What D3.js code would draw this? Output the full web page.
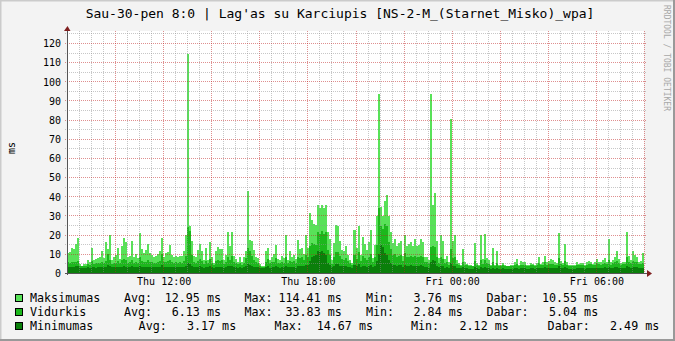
<!DOCTYPE html>
<html>
<head>
<meta charset="utf-8" />
<title>Lag'as su Karciupis</title>
<script src="https://d3js.org/d3.v7.min.js"></script>
<style>
  body { margin: 0; background: #fff; }
  svg text { font-family: "DejaVu Sans Mono", monospace; fill: #000; }
</style>
</head>
<body>
<svg id="chart"></svg>
<script>
// 5 minute samples, Thu 08:00 -> Fri 08:00 (ms)
var maxVals = [
  10.6, 11.1, 13, 12.6, 15.3, 18.1, 4.8, 3.8, 4.8, 4.8, 6.9, 5.6, 13, 6.6, 7.1, 7.6, 8.3, 11.6, 7.6, 16,
  12.6, 19.6, 6.9, 8.3, 9.6, 13, 7.2, 14.2, 18.3, 16, 8.6, 9, 16.9, 8.6, 10, 7.6, 20.9, 12.6, 10.6, 12.1,
  15.3, 10.2, 9.6, 8.6, 9, 10, 11.6, 18.3, 8.3, 10.2, 11.1, 14.6, 9.6, 8.3, 9, 8.3, 9, 9,
  11.6, 19.6, 114.41, 24.4, 16.9, 9, 8.3, 12.1, 15.3, 11.6, 6.9, 13, 6.9, 16.3, 8.3, 5.1, 11.6, 13.6, 12.6, 12.6,
  6.9, 9.6, 21.2, 14.2, 21.2, 9, 7.2, 6, 8.3, 5.5, 8.6, 11.6, 42.6, 17.4, 16.6, 12.1, 8.6, 7.6, 4.8, 3.8,
  3.9, 11.6, 13, 6.9, 8.6, 10, 14.8, 7.2, 6.9, 9, 7.6, 20, 6.9, 11.3, 8.3, 9.6, 7.2,
  17.4, 12.6, 13, 10, 20, 13, 31.4, 27.6, 25.6, 25.1, 35.6, 34, 35.6, 34, 35.6, 21.6, 17.6, 6.9, 15.6, 25.2,
  24.6, 16.6, 12.1, 11.3, 14.2, 9.3, 6.9, 5.1, 22.3, 13, 24.6, 9.3, 18.8, 15.3, 12.1, 16, 22.6, 7.9, 14.8, 30,
  93.2, 34.6, 29.6, 37.6, 40.6, 29.6, 21.6, 15.6, 17.6, 13.9, 15.6, 16.6, 9, 20, 13.9, 15.3, 16, 14.2,
  17.6, 14.2, 14.8, 17.6, 16, 8.6, 8.3, 6.9, 93.4, 35.6, 41.6, 16.6, 7.6, 19.6, 16.6, 7.2, 9, 5.6, 80.2, 16.6,
  19.6, 6.9, 5.2, 4.4, 12.6, 6, 4.8, 4.2, 4, 3.9, 15.6, 5.2, 4.1, 19.6, 7.2, 20.6, 7.6, 6.9, 4.2, 13,
  4.2, 11.6, 4, 4.2, 5.1, 4, 3.9, 3.9, 4, 4.2, 6, 7.2, 4.2, 6.5, 6, 6, 4.2, 4.4,
  5.1, 4.8, 4.2, 5.1, 8.3, 4.8, 5.5, 9, 5.5, 6.5, 7.2, 6.9, 5.5, 5.1, 20.9, 6.5, 5.1, 15.3, 5.5, 4.2,
  4, 4.1, 4.4, 5.5, 4.8, 5.1, 5.1, 4.2, 6, 6.5, 6, 4.8, 5.5, 7.2, 6, 5.5, 6.9, 7.9, 6, 17.6,
  5.5, 6.9, 8.3, 11.6, 7.2, 5.1, 6, 5.5, 21.6, 9, 6.9, 11.3, 9.5, 8.3, 5.5, 6.5, 10.55
];
var avgVals = [
  5.6, 5.4, 5.8, 5.5, 5.9, 6.2, 3.9, 3.6, 3.8, 3.9, 4.6, 4.2,
  6.1, 4.8, 5, 5.2, 5.4, 6, 5, 6.4, 9.8, 7, 4.8, 5.2,
  5.4, 6.2, 5, 6.6, 7.2, 6.8, 5.4, 5.6, 6.9, 5.3, 5.8, 5.1,
  8.3, 6.2, 5.8, 6, 6.6, 5.7, 5.6, 5.2, 5.4, 5.8, 6.1, 9.8,
  5.6, 5.9, 6.2, 6.8, 5.8, 5.3, 5.5, 5.2, 5.5, 5.4, 6.4, 8.8,
  24.2, 22, 9.6, 5.8, 5.4, 6.4, 7.2, 6.2, 4.8, 6.5, 5, 7.4,
  5.4, 4.2, 6.3, 6.8, 6.4, 6.6, 4.9, 5.6, 8.6, 7, 8.9, 5.6,
  5, 4.6, 5.3, 4.2, 5.4, 7.8, 13.2, 11.6, 9, 6.9, 5.7, 5.2,
  3.9, 3.2, 3.3, 5.9, 7.2, 5, 5.6, 6, 7.6, 5.1, 5, 5.8,
  5.2, 8.6, 5.1, 6.4, 5.6, 6.2, 5.1, 8.4, 7.8, 8.2, 7, 9.4,
  8.6, 14.2, 15.8, 15.1, 14.8, 21.2, 20.4, 21.8, 20.6, 21.4, 11.8, 9.4,
  4.8, 8.6, 10.8, 11.2, 8.8, 7.4, 7, 7.6, 6.2, 5.2, 4.3, 9.6,
  7.4, 10.8, 6.4, 8.8, 7.6, 6.9, 8.2, 9.8, 5.6, 8.1, 14.8, 33.83,
  24.6, 22.8, 25.4, 24.6, 16.2, 12.4, 9.2, 9.8, 8.4, 9.1, 9.4, 6.1,
  10.4, 8.2, 8.6, 8.9, 8.4, 8.8, 8.1, 8.3, 8.9, 8.4, 5.8, 5.6,
  5.2, 13.4, 14.2, 13.6, 8.4, 5.4, 8.2, 7.4, 5.2, 5.8, 4.3, 12.6,
  7.8, 8.2, 4.8, 4.1, 3.8, 5.9, 4.4, 4, 3.8, 3.7, 3.6, 6.2,
  4.1, 3.7, 6.6, 4.8, 7, 5, 4.9, 3.7, 5.6, 3.8, 5.2, 3.7,
  3.8, 4.1, 3.7, 3.6, 3.6, 3.7, 3.8, 4.3, 4.8, 3.8, 4.4, 4.2,
  4.3, 3.7, 3.8, 4, 4, 3.8, 4.1, 5.2, 4, 4.3, 5.6, 4.3,
  4.6, 4.9, 4.8, 4.3, 4.1, 7.8, 4.6, 4.1, 6.4, 4.3, 3.8, 3.7,
  3.7, 3.8, 4.4, 4, 4.2, 4.1, 3.8, 4.4, 4.7, 4.5, 4.1, 4.3,
  5, 4.6, 4.4, 4.9, 5.4, 4.6, 6.8, 4.4, 5, 5.6, 6.4, 5.2,
  4.4, 4.8, 4.5, 8.2, 6, 5.2, 6.4, 5.8, 5.6, 4.5, 4.9, 5.04
];
var minVals = [
  3.2, 3.1, 3.3, 3.2, 3.4, 3.4, 2.8, 2.6, 2.7, 2.7, 2.9, 2.8,
  3.1, 2.9, 2.8, 2.9, 3, 3.2, 3, 3.3, 4.2, 3.6, 2.9, 3,
  3, 3.2, 2.9, 3.3, 3.4, 3.2, 3, 3.1, 3.4, 3, 3.1, 2.9,
  3.6, 3.2, 3, 3.1, 3.3, 3, 3, 2.9, 3, 3.1, 3.2, 4.1,
  3, 3.1, 3.2, 3.3, 3.1, 2.9, 3, 2.9, 3, 2.9, 3.3, 3.8,
  5.2, 4.8, 3.6, 3.1, 3, 3.2, 3.4, 3.2, 2.8, 3.2, 2.9, 3.4,
  3, 2.7, 3.1, 3.3, 3.2, 3.2, 2.8, 3, 3.8, 3.4, 3.9, 3,
  2.9, 2.7, 2.9, 2.6, 2.9, 3.4, 4.8, 4.4, 3.8, 3.2, 3, 2.9,
  2.6, 2.4, 2.4, 3, 3.4, 2.8, 3, 3.1, 3.5, 2.9, 2.8, 3,
  2.9, 3.6, 2.9, 3.2, 3, 3.1, 2.8, 3.6, 3.5, 3.8, 3.4, 4.2,
  4, 6.4, 8.2, 8.8, 9.6, 11.4, 10.8, 11.6, 10.2, 9.4, 5.2, 4.4,
  2.9, 3.8, 4.6, 4.8, 3.9, 3.5, 3.4, 3.6, 3.2, 2.9, 2.6, 4,
  3.4, 4.6, 3.2, 3.9, 3.5, 3.3, 3.7, 4.2, 3, 3.6, 6.2, 9.8,
  14.67, 13.8, 10.2, 9.4, 6.8, 5.2, 4.2, 4.4, 3.9, 4.1, 4.2, 3.2,
  4.4, 3.8, 3.9, 4, 3.8, 3.9, 3.7, 3.8, 4, 3.8, 3, 2.9,
  2.8, 5.6, 6.8, 6.2, 3.8, 2.9, 3.6, 3.4, 2.8, 3, 2.6, 5.4,
  3.6, 3.6, 2.7, 2.5, 2.4, 3, 2.6, 2.4, 2.3, 2.3, 2.2, 2.9,
  2.5, 2.3, 3, 2.6, 3.2, 2.8, 2.7, 2.3, 2.8, 2.3, 2.7, 2.3,
  2.3, 2.4, 2.3, 2.2, 2.2, 2.3, 2.3, 2.5, 2.7, 2.3, 2.5, 2.4,
  2.5, 2.3, 2.3, 2.4, 2.4, 2.3, 2.4, 2.8, 2.4, 2.5, 2.9, 2.5,
  2.6, 2.7, 2.7, 2.5, 2.4, 3.6, 2.6, 2.4, 3.1, 2.5, 2.3, 2.12,
  2.2, 2.3, 2.5, 2.4, 2.5, 2.4, 2.3, 2.5, 2.6, 2.6, 2.4, 2.5,
  2.7, 2.6, 2.5, 2.7, 2.9, 2.6, 3.2, 2.5, 2.7, 2.9, 3.1, 2.8,
  2.5, 2.7, 2.6, 3.6, 3, 2.8, 3.1, 2.9, 2.9, 2.6, 2.7, 2.49
];

var yTicks = [0, 10, 20, 30, 40, 50, 60, 70, 80, 90, 100, 110, 120];
var xTickLabels = ["Thu 12:00", "Thu 18:00", "Fri 00:00", "Fri 06:00"];
var xTickHours = [4, 10, 16, 22];   // hours after start

var legendNames = ["Maksimumas", "Vidurkis", "Minimumas"];
var legendAvg = ["12.95 ms", "6.13 ms", "3.17 ms"];
var legendMax = ["114.41 ms", "33.83 ms", "14.67 ms"];
var legendMin = ["3.76 ms", "2.84 ms", "2.12 ms"];
var legendNow = ["10.55 ms", "5.04 ms", "2.49 ms"];
var colors = ["#58e258", "#1cb81c", "#0a7f0a"];

var title = "Sau-30-pen 8:0 | Lag'as su Karciupis [NS-2-M_(Starnet_Misko)_wpa]";

var width = 675, height = 341;
var plot = {left: 67, right: 644, top: 31, bottom: 273};
var start = new Date(2009, 0, 29, 8, 0);
var step = 5 * 60 * 1000;
var end = new Date(+start + 24 * 3600 * 1000);

var svg = d3.select("#chart").attr("width", width).attr("height", height);

// background + rrdtool style border
svg.append("rect").attr("width", width).attr("height", height).attr("fill", "#f3f3f3");
svg.append("path").attr("d", "M0,341V0H675").attr("fill", "none")
  .attr("stroke", "#cbcbcb").attr("stroke-width", 3);
svg.append("path").attr("d", "M0,340H674V0").attr("fill", "none")
  .attr("stroke", "#999999").attr("stroke-width", 2);

svg.append("rect")
  .attr("x", plot.left).attr("y", plot.top)
  .attr("width", plot.right - plot.left).attr("height", plot.bottom - plot.top)
  .attr("fill", "#ffffff");

var x = d3.scaleTime().domain([start, end]).range([plot.left, plot.right]);
var y = d3.scaleLinear().domain([0, 126.26]).range([plot.bottom, plot.top]);

function points(vals) {
  var p = vals.map(function(v, i) { return {t: new Date(+start + i * step), v: v}; });
  p.push({t: end, v: vals[vals.length - 1]});
  return p;
}

var area = d3.area()
  .x(function(d) { return x(d.t); })
  .y0(y(0))
  .y1(function(d) { return y(d.v); })
  .curve(d3.curveStepAfter);

[maxVals, avgVals, minVals].forEach(function(vals, i) {
  svg.append("path")
    .datum(points(vals))
    .attr("d", area)
    .attr("fill", colors[i])
    .attr("shape-rendering", "crispEdges");
});

// grid (drawn on top, like rrdtool)
var grid = svg.append("g").attr("shape-rendering", "crispEdges");
var minorX = d3.timeMinute.every(30).range(start, end).filter(function(d) { return d.getMinutes() !== 0 || d.getHours() % 2; });
var majorX = d3.timeHour.every(2).range(new Date(+start + 1), new Date(+end + 1));

grid.selectAll(".gx").data(minorX).enter().append("line")
  .attr("x1", function(d) { return x(d) + 0.5; }).attr("x2", function(d) { return x(d) + 0.5; })
  .attr("y1", plot.top).attr("y2", plot.bottom + 2)
  .attr("stroke", "rgba(143,143,143,0.5)").attr("stroke-dasharray", "1,1");
grid.selectAll(".mx").data(majorX).enter().append("line")
  .attr("x1", function(d) { return x(d) + 0.5; }).attr("x2", function(d) { return x(d) + 0.5; })
  .attr("y1", plot.top).attr("y2", plot.bottom + 2)
  .attr("stroke", "rgba(192,32,32,0.5)").attr("stroke-dasharray", "1,1");

var minorY = d3.range(5, 126, 10);
grid.selectAll(".gy").data(minorY).enter().append("line")
  .attr("x1", plot.left - 2).attr("x2", plot.right + 2)
  .attr("y1", function(d) { return Math.round(y(d)) + 0.5; })
  .attr("y2", function(d) { return Math.round(y(d)) + 0.5; })
  .attr("stroke", "rgba(143,143,143,0.5)").attr("stroke-dasharray", "1,1");
grid.selectAll(".my").data(yTicks.slice(1)).enter().append("line")
  .attr("x1", plot.left - 2).attr("x2", plot.right + 2)
  .attr("y1", function(d) { return Math.round(y(d)) + 0.5; })
  .attr("y2", function(d) { return Math.round(y(d)) + 0.5; })
  .attr("stroke", "rgba(192,32,32,0.5)").attr("stroke-dasharray", "1,1");

// axes lines + arrows
svg.append("line").attr("x1", plot.left - 2).attr("x2", plot.right + 5)
  .attr("y1", plot.bottom + 0.5).attr("y2", plot.bottom + 0.5).attr("stroke", "#555");
svg.append("line").attr("x1", plot.left + 0.5).attr("x2", plot.left + 0.5)
  .attr("y1", plot.bottom + 2).attr("y2", plot.top - 3).attr("stroke", "#555");
svg.append("path").attr("d", "M64,31L70.5,31L67.5,26Z").attr("fill", "#7f1f1f");
svg.append("path").attr("d", "M647,270L647,277L652,273.5Z").attr("fill", "#7f1f1f");

// tick labels
var yAxis = d3.axisLeft(y).tickValues(yTicks).tickSize(0).tickPadding(6);
var gy = svg.append("g").attr("transform", "translate(" + plot.left + ",0.5)").call(yAxis);
gy.select(".domain").remove();
gy.selectAll("text").attr("font-family", "DejaVu Sans Mono").attr("font-size", "10px");

var xTickTimes = xTickHours.map(function(h) { return new Date(+start + h * 3600 * 1000); });
var xAxis = d3.axisBottom(x).tickValues(xTickTimes)
  .tickFormat(function(d, i) { return xTickLabels[i]; })
  .tickSize(0).tickPadding(5);
var gx = svg.append("g").attr("transform", "translate(0.5," + plot.bottom + ")").call(xAxis);
gx.select(".domain").remove();
gx.selectAll("text").attr("font-family", "DejaVu Sans Mono").attr("font-size", "10px");

// title, unit, watermark
svg.append("text").attr("x", 340).attr("y", 17.5).attr("text-anchor", "middle")
  .attr("font-size", "13px").text(title);
svg.append("text").attr("transform", "translate(15,148) rotate(-90)")
  .attr("text-anchor", "middle").attr("font-size", "10px").text("ms");
svg.append("text").attr("transform", "translate(664,5) rotate(90)")
  .attr("font-size", "8px").style("fill", "#a8a8a8").text("RRDTOOL / TOBI OETIKER");

// legend
var cols = [
  {avg: 124, avgEnd: 221, max: 244.5, maxEnd: 341.8, min: 366, minEnd: 462.8, now: 486.4, nowEnd: 598.2},
  {avg: 124, avgEnd: 221, max: 244.5, maxEnd: 341.8, min: 366, minEnd: 462.8, now: 486.4, nowEnd: 598.2},
  {avg: 138.6, avgEnd: 236.2, max: 274.6, maxEnd: 373, min: 411, minEnd: 508.8, now: 547.6, nowEnd: 659.3}
];
legendNames.forEach(function(name, i) {
  var by = 302.3 + i * 14;
  var c = cols[i];
  var row = svg.append("g").attr("font-size", "11.7px");
  row.append("rect").attr("x", 15.5).attr("y", Math.round(by - 8) + 0.5).attr("width", 7).attr("height", 7)
    .attr("fill", colors[i]).attr("stroke", "#000");
  row.append("text").attr("x", 30).attr("y", by).text(name);
  row.append("text").attr("x", c.avg).attr("y", by).text("Avg:");
  row.append("text").attr("x", c.avgEnd).attr("y", by).attr("text-anchor", "end").text(legendAvg[i]);
  row.append("text").attr("x", c.max).attr("y", by).text("Max:");
  row.append("text").attr("x", c.maxEnd).attr("y", by).attr("text-anchor", "end").text(legendMax[i]);
  row.append("text").attr("x", c.min).attr("y", by).text("Min:");
  row.append("text").attr("x", c.minEnd).attr("y", by).attr("text-anchor", "end").text(legendMin[i]);
  row.append("text").attr("x", c.now).attr("y", by).text("Dabar:");
  row.append("text").attr("x", c.nowEnd).attr("y", by).attr("text-anchor", "end").text(legendNow[i]);
});
</script>
</body>
</html>
